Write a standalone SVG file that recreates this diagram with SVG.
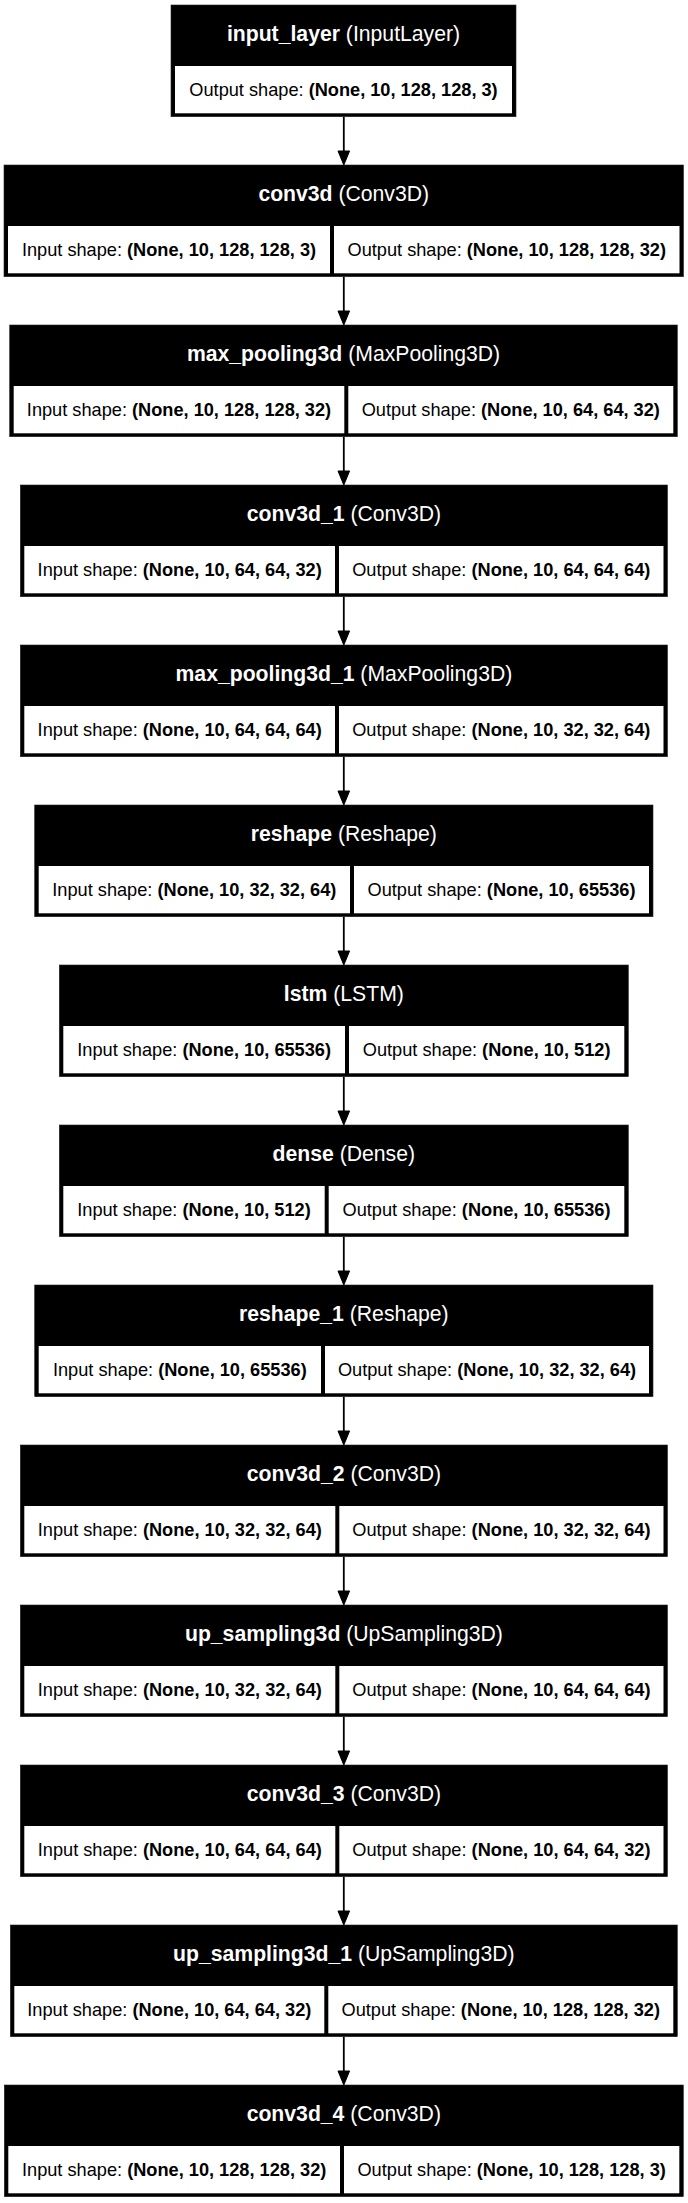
<svg xmlns="http://www.w3.org/2000/svg" width="688" height="2203" viewBox="0 0 688 2203">
<style>
.box{fill:#000;stroke:#222;stroke-width:0.6}
.cell{fill:#fff}
.h{font-family:"Liberation Sans",Arial,sans-serif;font-size:21.2px;fill:#fff;text-anchor:middle}
.t{font-family:"Liberation Sans",Arial,sans-serif;font-size:18.2px;fill:#000;text-anchor:middle}
.b{font-weight:bold}
.edge{stroke:#000;stroke-width:1.8;fill:none}
.head{fill:#000;stroke:#000;stroke-width:1}
</style>
<rect width="688" height="2203" fill="#fff"/>
<g id="connectors">
<line class="edge" x1="343.8" y1="116.7" x2="343.8" y2="152"/><polygon class="head" points="338,151 349.6,151 343.8,165"/>
<line class="edge" x1="343.8" y1="276.7" x2="343.8" y2="312"/><polygon class="head" points="338,311 349.6,311 343.8,325"/>
<line class="edge" x1="343.8" y1="436.7" x2="343.8" y2="472"/><polygon class="head" points="338,471 349.6,471 343.8,485"/>
<line class="edge" x1="343.8" y1="596.7" x2="343.8" y2="632"/><polygon class="head" points="338,631 349.6,631 343.8,645"/>
<line class="edge" x1="343.8" y1="756.7" x2="343.8" y2="792"/><polygon class="head" points="338,791 349.6,791 343.8,805"/>
<line class="edge" x1="343.8" y1="916.7" x2="343.8" y2="952"/><polygon class="head" points="338,951 349.6,951 343.8,965"/>
<line class="edge" x1="343.8" y1="1076.7" x2="343.8" y2="1112"/><polygon class="head" points="338,1111 349.6,1111 343.8,1125"/>
<line class="edge" x1="343.8" y1="1236.7" x2="343.8" y2="1272"/><polygon class="head" points="338,1271 349.6,1271 343.8,1285"/>
<line class="edge" x1="343.8" y1="1396.7" x2="343.8" y2="1432"/><polygon class="head" points="338,1431 349.6,1431 343.8,1445"/>
<line class="edge" x1="343.8" y1="1556.7" x2="343.8" y2="1592"/><polygon class="head" points="338,1591 349.6,1591 343.8,1605"/>
<line class="edge" x1="343.8" y1="1716.7" x2="343.8" y2="1752"/><polygon class="head" points="338,1751 349.6,1751 343.8,1765"/>
<line class="edge" x1="343.8" y1="1876.7" x2="343.8" y2="1912"/><polygon class="head" points="338,1911 349.6,1911 343.8,1925"/>
<line class="edge" x1="343.8" y1="2036.7" x2="343.8" y2="2072"/><polygon class="head" points="338,2071 349.6,2071 343.8,2085"/>
</g>
<g id="input_layer">
<rect class="box" x="171" y="5" width="345" height="111.7"/>
<rect class="cell" x="175" y="66" width="337" height="47.3"/>
<text class="h" x="343.5" y="40.5"><tspan class="b">input_layer</tspan> (InputLayer)</text>
<text class="t" x="343.5" y="96.3"><tspan>Output shape: </tspan><tspan class="b">(None, 10, 128, 128, 3)</tspan></text>
</g>
<g id="conv3d">
<rect class="box" x="4" y="165" width="679.5" height="111.7"/>
<rect class="cell" x="8" y="226" width="322" height="47.3"/>
<rect class="cell" x="334" y="226" width="345.5" height="47.3"/>
<text class="h" x="343.75" y="200.5"><tspan class="b">conv3d</tspan> (Conv3D)</text>
<text class="t" x="169" y="256.3">Input shape: <tspan class="b">(None, 10, 128, 128, 3)</tspan></text>
<text class="t" x="506.75" y="256.3">Output shape: <tspan class="b">(None, 10, 128, 128, 32)</tspan></text>
</g>
<g id="max_pooling3d">
<rect class="box" x="9.7" y="325" width="667.6" height="111.7"/>
<rect class="cell" x="13.7" y="386" width="330.6" height="47.3"/>
<rect class="cell" x="348.3" y="386" width="325" height="47.3"/>
<text class="h" x="343.5" y="360.5"><tspan class="b">max_pooling3d</tspan> (MaxPooling3D)</text>
<text class="t" x="179" y="416.3">Input shape: <tspan class="b">(None, 10, 128, 128, 32)</tspan></text>
<text class="t" x="510.8" y="416.3">Output shape: <tspan class="b">(None, 10, 64, 64, 32)</tspan></text>
</g>
<g id="conv3d_1">
<rect class="box" x="20.3" y="485" width="647.2" height="111.7"/>
<rect class="cell" x="24.3" y="546" width="310.7" height="47.3"/>
<rect class="cell" x="339" y="546" width="324.5" height="47.3"/>
<text class="h" x="343.9" y="520.5"><tspan class="b">conv3d_1</tspan> (Conv3D)</text>
<text class="t" x="179.65" y="576.3">Input shape: <tspan class="b">(None, 10, 64, 64, 32)</tspan></text>
<text class="t" x="501.25" y="576.3">Output shape: <tspan class="b">(None, 10, 64, 64, 64)</tspan></text>
</g>
<g id="max_pooling3d_1">
<rect class="box" x="20.3" y="645" width="647.2" height="111.7"/>
<rect class="cell" x="24.3" y="706" width="310.7" height="47.3"/>
<rect class="cell" x="339" y="706" width="324.5" height="47.3"/>
<text class="h" x="343.9" y="680.5"><tspan class="b">max_pooling3d_1</tspan> (MaxPooling3D)</text>
<text class="t" x="179.65" y="736.3">Input shape: <tspan class="b">(None, 10, 64, 64, 64)</tspan></text>
<text class="t" x="501.25" y="736.3">Output shape: <tspan class="b">(None, 10, 32, 32, 64)</tspan></text>
</g>
<g id="reshape">
<rect class="box" x="34.7" y="805" width="618.3" height="111.7"/>
<rect class="cell" x="38.7" y="866" width="311.3" height="47.3"/>
<rect class="cell" x="354" y="866" width="295" height="47.3"/>
<text class="h" x="343.85" y="840.5"><tspan class="b">reshape</tspan> (Reshape)</text>
<text class="t" x="194.35" y="896.3">Input shape: <tspan class="b">(None, 10, 32, 32, 64)</tspan></text>
<text class="t" x="501.5" y="896.3">Output shape: <tspan class="b">(None, 10, 65536)</tspan></text>
</g>
<g id="lstm">
<rect class="box" x="59.3" y="965" width="569" height="111.7"/>
<rect class="cell" x="63.3" y="1026" width="281.7" height="47.3"/>
<rect class="cell" x="349" y="1026" width="275.3" height="47.3"/>
<text class="h" x="343.8" y="1000.5"><tspan class="b">lstm</tspan> (LSTM)</text>
<text class="t" x="204.15" y="1056.3">Input shape: <tspan class="b">(None, 10, 65536)</tspan></text>
<text class="t" x="486.65" y="1056.3">Output shape: <tspan class="b">(None, 10, 512)</tspan></text>
</g>
<g id="dense">
<rect class="box" x="59.3" y="1125" width="569" height="111.7"/>
<rect class="cell" x="63.3" y="1186" width="261.4" height="47.3"/>
<rect class="cell" x="328.7" y="1186" width="295.6" height="47.3"/>
<text class="h" x="343.8" y="1160.5"><tspan class="b">dense</tspan> (Dense)</text>
<text class="t" x="194" y="1216.3">Input shape: <tspan class="b">(None, 10, 512)</tspan></text>
<text class="t" x="476.5" y="1216.3">Output shape: <tspan class="b">(None, 10, 65536)</tspan></text>
</g>
<g id="reshape_1">
<rect class="box" x="34.7" y="1285" width="618.3" height="111.7"/>
<rect class="cell" x="38.7" y="1346" width="282.3" height="47.3"/>
<rect class="cell" x="325" y="1346" width="324" height="47.3"/>
<text class="h" x="343.85" y="1320.5"><tspan class="b">reshape_1</tspan> (Reshape)</text>
<text class="t" x="179.85" y="1376.3">Input shape: <tspan class="b">(None, 10, 65536)</tspan></text>
<text class="t" x="487" y="1376.3">Output shape: <tspan class="b">(None, 10, 32, 32, 64)</tspan></text>
</g>
<g id="conv3d_2">
<rect class="box" x="20.3" y="1445" width="647.2" height="111.7"/>
<rect class="cell" x="24.3" y="1506" width="311" height="47.3"/>
<rect class="cell" x="339.3" y="1506" width="324.2" height="47.3"/>
<text class="h" x="343.9" y="1480.5"><tspan class="b">conv3d_2</tspan> (Conv3D)</text>
<text class="t" x="179.8" y="1536.3">Input shape: <tspan class="b">(None, 10, 32, 32, 64)</tspan></text>
<text class="t" x="501.4" y="1536.3">Output shape: <tspan class="b">(None, 10, 32, 32, 64)</tspan></text>
</g>
<g id="up_sampling3d">
<rect class="box" x="20.3" y="1605" width="647.2" height="111.7"/>
<rect class="cell" x="24.3" y="1666" width="311" height="47.3"/>
<rect class="cell" x="339.3" y="1666" width="324.2" height="47.3"/>
<text class="h" x="343.9" y="1640.5"><tspan class="b">up_sampling3d</tspan> (UpSampling3D)</text>
<text class="t" x="179.8" y="1696.3">Input shape: <tspan class="b">(None, 10, 32, 32, 64)</tspan></text>
<text class="t" x="501.4" y="1696.3">Output shape: <tspan class="b">(None, 10, 64, 64, 64)</tspan></text>
</g>
<g id="conv3d_3">
<rect class="box" x="20.3" y="1765" width="647.2" height="111.7"/>
<rect class="cell" x="24.3" y="1826" width="311" height="47.3"/>
<rect class="cell" x="339.3" y="1826" width="324.2" height="47.3"/>
<text class="h" x="343.9" y="1800.5"><tspan class="b">conv3d_3</tspan> (Conv3D)</text>
<text class="t" x="179.8" y="1856.3">Input shape: <tspan class="b">(None, 10, 64, 64, 64)</tspan></text>
<text class="t" x="501.4" y="1856.3">Output shape: <tspan class="b">(None, 10, 64, 64, 32)</tspan></text>
</g>
<g id="up_sampling3d_1">
<rect class="box" x="10.3" y="1925" width="667" height="111.7"/>
<rect class="cell" x="14.3" y="1986" width="310" height="47.3"/>
<rect class="cell" x="328.3" y="1986" width="345" height="47.3"/>
<text class="h" x="343.8" y="1960.5"><tspan class="b">up_sampling3d_1</tspan> (UpSampling3D)</text>
<text class="t" x="169.3" y="2016.3">Input shape: <tspan class="b">(None, 10, 64, 64, 32)</tspan></text>
<text class="t" x="500.8" y="2016.3">Output shape: <tspan class="b">(None, 10, 128, 128, 32)</tspan></text>
</g>
<g id="conv3d_4">
<rect class="box" x="4.3" y="2085" width="679" height="111.7"/>
<rect class="cell" x="8.3" y="2146" width="331.7" height="47.3"/>
<rect class="cell" x="344" y="2146" width="335.3" height="47.3"/>
<text class="h" x="343.8" y="2120.5"><tspan class="b">conv3d_4</tspan> (Conv3D)</text>
<text class="t" x="174.15" y="2176.3">Input shape: <tspan class="b">(None, 10, 128, 128, 32)</tspan></text>
<text class="t" x="511.65" y="2176.3">Output shape: <tspan class="b">(None, 10, 128, 128, 3)</tspan></text>
</g>
</svg>
